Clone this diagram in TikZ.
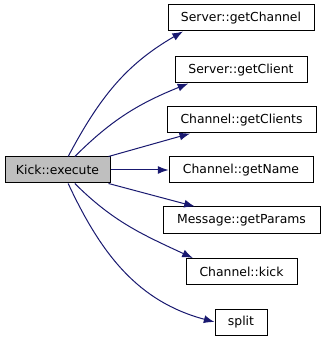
\documentclass[tikz,border=0pt]{standalone}
\usepackage{fontspec}
\setmainfont{DejaVu Sans}
\usetikzlibrary{arrows.meta}

\definecolor{edgeblue}{HTML}{191970}

\tikzset{
	fn/.style={draw=black, fill=white, line width=0.75pt, inner sep=0pt,
		minimum height=19.5pt, minimum width=#1*0.75pt,
		font=\fontsize{9.3}{11}\selectfont},
	fncur/.style={fn=#1, fill=black!25},
	call/.style={draw=edgeblue, line width=0.75pt,
		-{Latex[length=8pt,width=6pt]}},
}

\begin{document}
\begin{tikzpicture}[x=0.75pt, y=-0.75pt]
	\fill[white] (0,0) rectangle (325,341);
	\useasboundingbox (0,0) rectangle (325,341);

	% caller
	\node[fncur=105] (exec) at (57.5,170) {Kick::execute};

	% callees
	\node[fn=146] (getChannel) at (241,18) {Server::getChannel};
	\node[fn=132] (getClient) at (241,70) {Server::getClient};
	\node[fn=149] (getClients) at (241.5,120) {Channel::getClients};
	\node[fn=144] (getName) at (241,170) {Channel::getName};
	\node[fn=157] (getParams) at (241.5,220) {Message::getParams};
	\node[fn=111] (kick) at (241.5,271.5) {Channel::kick};
	\node[fn=52] (split) at (241,322) {split};

	\draw[call] ([xshift=8pt]exec.north) to[out=62, in=210] ([xshift=-43.5pt]getChannel.south);
	\draw[call] ([xshift=13pt]exec.north) to[out=45, in=202] ([xshift=-39.5pt]getClient.south);
	\draw[call] ([xshift=-1.5pt]exec.north east) -- ([xshift=-38.5pt]getClients.south);
	\draw[call] (exec.east) -- (getName.west);
	\draw[call] ([xshift=-1.5pt]exec.south east) -- ([xshift=-35pt]getParams.north);
	\draw[call] ([xshift=13pt]exec.south) to[out=-45, in=155] ([xshift=-36.5pt]kick.north);
	\draw[call] ([xshift=8pt]exec.south) to[out=-65, in=165] (split.west);
\end{tikzpicture}
\end{document}
